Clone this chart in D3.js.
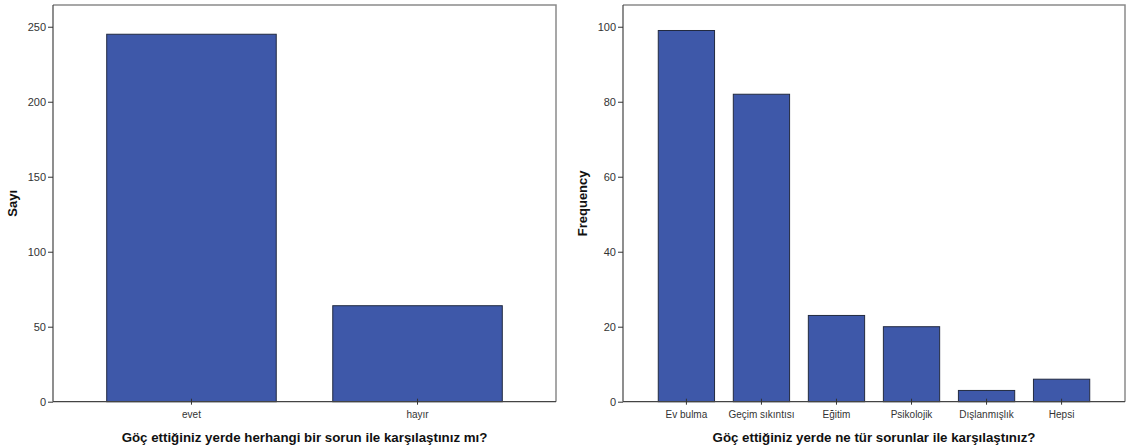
<!DOCTYPE html>
<html>
<head>
<meta charset="utf-8">
<script src="https://cdn.jsdelivr.net/npm/d3@7"></script>
<style>
  body { margin: 0; background: #fff; }
  svg { display: block; font-family: Arial, "Liberation Sans", sans-serif; }
</style>
</head>
<body>
<svg id="chart" width="1126" height="447"></svg>
<script>
// Left chart data
const leftCategories = ["evet", "hayır"];
const leftValues = [245, 64];
const leftTicks = [0, 50, 100, 150, 200, 250];
const leftYLabel = "Sayı";
const leftXLabel = "Göç ettiğiniz yerde herhangi bir sorun ile karşılaştınız mı?";

// Right chart data
const rightCategories = ["Ev bulma", "Geçim sıkıntısı", "Eğitim", "Psikolojik", "Dışlanmışlık", "Hepsi"];
const rightValues = [99, 82, 23, 20, 3, 6];
const rightTicks = [0, 20, 40, 60, 80, 100];
const rightYLabel = "Frequency";
const rightXLabel = "Göç ettiğiniz yerde ne tür sorunlar ile karşılaştınız?";

const svg = d3.select("#chart");

function drawPanel(cfg) {
  const g = svg.append("g");
  const x = d3.scaleBand().domain(cfg.categories).range([cfg.x0, cfg.x1])
    .paddingInner(0.25).paddingOuter(cfg.outer);
  const y = d3.scaleLinear().domain([0, cfg.ymax]).range([cfg.y0, cfg.y1]);

  // frame top & right
  g.append("path")
    .attr("d", `M${cfg.x0},${cfg.y1}H${cfg.x1}V${cfg.y0}`)
    .attr("fill", "none").attr("stroke", "#8a8a8a").attr("stroke-width", 1.5);

  // bars
  g.selectAll("rect.bar").data(cfg.values).enter().append("rect")
    .attr("class", "bar")
    .attr("x", (d, i) => x(cfg.categories[i]))
    .attr("width", x.bandwidth())
    .attr("y", d => y(d))
    .attr("height", d => y(0) - y(d))
    .attr("fill", "#3e58a9")
    .attr("stroke", "#222a40")
    .attr("stroke-width", 1);

  // y axis
  const ya = g.append("g").attr("transform", `translate(${cfg.x0},0)`)
    .call(d3.axisLeft(y).tickValues(cfg.ticks).tickSize(5).tickPadding(2).tickSizeOuter(0));
  ya.select(".domain").attr("stroke", "#444").attr("stroke-width", 1.2)
    .attr("d", `M0,${cfg.y0}V${cfg.y1}`);
  ya.selectAll(".tick line").attr("stroke", "#333");
  ya.selectAll(".tick text").attr("fill", "#333").style("font-size", "11px");

  // x axis
  const xa = g.append("g").attr("transform", `translate(0,${cfg.y0})`)
    .call(d3.axisBottom(x).tickSize(5).tickPadding(4).tickSizeOuter(0));
  xa.select(".domain").attr("stroke", "#444").attr("stroke-width", 1.2)
    .attr("d", `M${cfg.x0},0H${cfg.x1}`);
  xa.selectAll(".tick line").attr("stroke", "#333").attr("y1", -3).attr("y2", 3);
  xa.selectAll(".tick text").attr("fill", "#333").style("font-size", "10px");

  // axis titles
  g.append("text")
    .attr("transform", `translate(${cfg.ylabX},${(cfg.y0 + cfg.y1) / 2}) rotate(-90)`)
    .attr("text-anchor", "middle").attr("dominant-baseline", "middle")
    .style("font-size", "13px").style("font-weight", "bold").attr("fill", "#111")
    .text(cfg.ylabel);
  g.append("text")
    .attr("x", (cfg.x0 + cfg.x1) / 2).attr("y", 441.5)
    .attr("text-anchor", "middle")
    .style("font-size", "13.3px").style("font-weight", "bold").attr("fill", "#111")
    .text(cfg.xlabel);
}

drawPanel({
  categories: leftCategories, values: leftValues, ticks: leftTicks,
  ylabel: leftYLabel, xlabel: leftXLabel,
  x0: 53, x1: 556, y0: 401.7, y1: 5, ymax: 264.5, outer: 0.2376, ylabX: 14
});
drawPanel({
  categories: rightCategories, values: rightValues, ticks: rightTicks,
  ylabel: rightYLabel, xlabel: rightXLabel,
  x0: 623, x1: 1125, y0: 401.7, y1: 5, ymax: 105.8, outer: 0.47, ylabX: 584
});
</script>
</body>
</html>
